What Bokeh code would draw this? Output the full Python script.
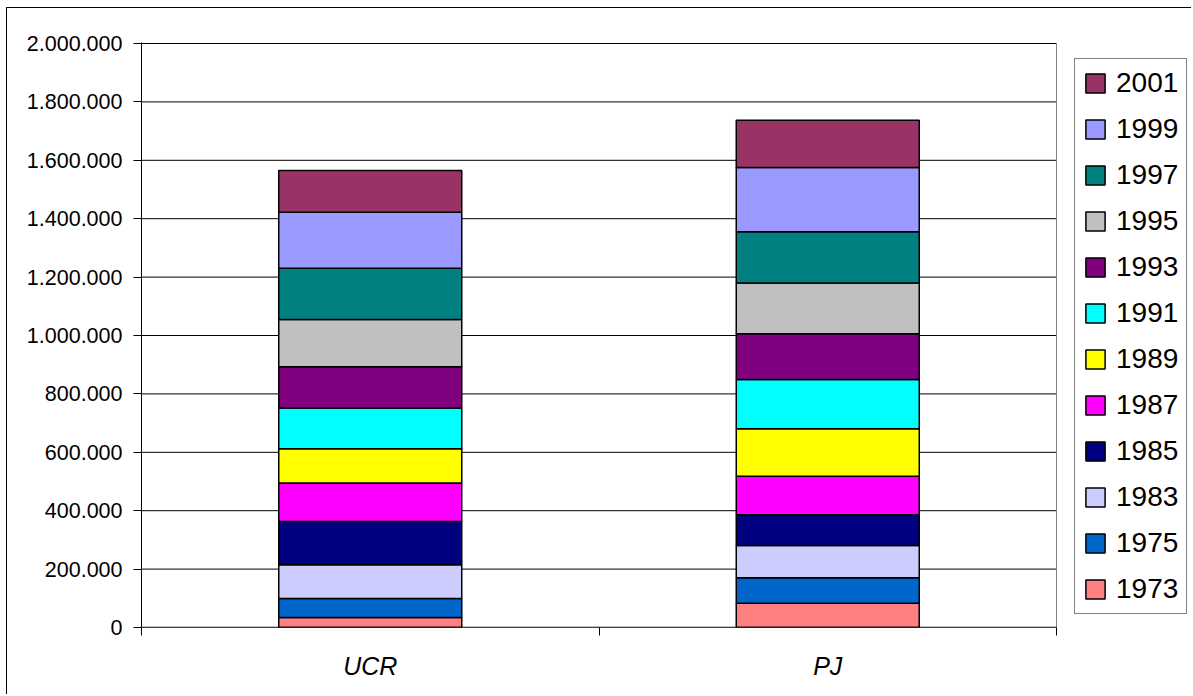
from bokeh.plotting import figure
from bokeh.models import FixedTicker, Range1d, Legend, LegendItem, ColumnDataSource
from bokeh.embed import file_html
from bokeh.resources import INLINE

categories = ["UCR", "PJ"]
years = ["1973", "1975", "1983", "1985", "1987", "1989", "1991", "1993", "1995", "1997", "1999", "2001"]
ucr = [34000, 65000, 116000, 148000, 132000, 117000, 140000, 141000, 162000, 175000, 192000, 143000]
pj = [83000, 87000, 111000, 105000, 132000, 163000, 168000, 157000, 174000, 175000, 220000, 162000]
colors = ["#FF8080", "#0066CC", "#CCCCFF", "#000080", "#FF00FF", "#FFFF00",
          "#00FFFF", "#800080", "#C0C0C0", "#008080", "#9999FF", "#993366"]
y_ticks = [0, 200000, 400000, 600000, 800000, 1000000, 1200000, 1400000, 1600000, 1800000, 2000000]
y_labels = ["0", "200.000", "400.000", "600.000", "800.000", "1.000.000", "1.200.000",
            "1.400.000", "1.600.000", "1.800.000", "2.000.000"]

FONT = "Liberation Sans"

W, H = 1185, 687
LEFT, TOP, BOTTOM = 134, 34, 68
PLOT_W = 915  # width of the category area in pixels
n = len(categories)
x_end = n * (W - LEFT) / PLOT_W
y_end = y_ticks[-1] * (1 + 1.0 / 584)

x_pos = [i + 0.5 for i in range(n)]
boundaries = [float(i) for i in range(n + 1)]
data = {"x": x_pos}
for yr, u, q in zip(years, ucr, pj):
    data[yr] = [u, q]
src = ColumnDataSource(data)

p = figure(width=W, height=H,
           x_range=Range1d(0, x_end), y_range=Range1d(0, y_end),
           output_backend="svg", toolbar_location=None,
           min_border_left=LEFT, min_border_right=0, min_border_top=TOP, min_border_bottom=BOTTOM)
p.styles = {"margin-left": "6px", "margin-top": "7px",
            "border-top": "1px solid black", "border-left": "1px solid black"}
p.background_fill_color = "white"
p.border_fill_color = "white"
p.outline_line_color = None

# horizontal gridlines limited to the category area
p.segment(x0=[0] * len(y_ticks), x1=[n] * len(y_ticks), y0=y_ticks, y1=y_ticks,
          line_color="black", line_width=1)
# right border of plot area
p.segment(x0=[n], x1=[n], y0=[0], y1=[y_ticks[-1]], line_color="#808080", line_width=1)

renderers = p.vbar_stack(years, x="x", width=0.4, source=src,
                         fill_color=colors, line_color="black", line_width=1.5)

# x axis line (only across the category area)
p.segment(x0=[0], x1=[n], y0=[0], y1=[0], line_color="black", line_width=1.5)

# x axis
p.xaxis.ticker = FixedTicker(ticks=x_pos, minor_ticks=boundaries)
p.xaxis.major_label_overrides = {x: c for x, c in zip(x_pos, categories)}
p.xaxis.major_tick_line_color = None
p.xaxis.minor_tick_line_color = "black"
p.xaxis.minor_tick_in = 0
p.xaxis.minor_tick_out = 8
p.xaxis.axis_line_color = None
p.xaxis.major_label_text_font = FONT
p.xaxis.major_label_text_font_style = "italic"
p.xaxis.major_label_text_font_size = "25px"
p.xaxis.major_label_text_color = "black"
p.xaxis.major_label_standoff = 16
p.xgrid.visible = False
p.ygrid.visible = False

# y axis
p.yaxis.ticker = FixedTicker(ticks=y_ticks)
p.yaxis.major_label_overrides = {t: l for t, l in zip(y_ticks, y_labels)}
p.yaxis.major_tick_line_color = "black"
p.yaxis.major_tick_in = 0
p.yaxis.major_tick_out = 8
p.yaxis.minor_tick_line_color = None
p.yaxis.axis_line_color = "black"
p.yaxis.major_label_text_font = FONT
p.yaxis.major_label_text_font_size = "21.5px"
p.yaxis.major_label_text_color = "black"
p.yaxis.major_label_standoff = 11

items = [LegendItem(label=yr, renderers=[r]) for yr, r in zip(years, renderers)][::-1]
legend = Legend(items=items, location=(933, 13),
                label_text_font=FONT, label_text_font_size="28px", label_text_color="black",
                glyph_width=24, glyph_height=24, label_standoff=9, label_height=20,
                spacing=14, padding=8, margin=0,
                border_line_color="black", border_line_width=1,
                background_fill_color="white", background_fill_alpha=1.0)
p.add_layout(legend)

open("out.html", "w").write(file_html(p, INLINE))
